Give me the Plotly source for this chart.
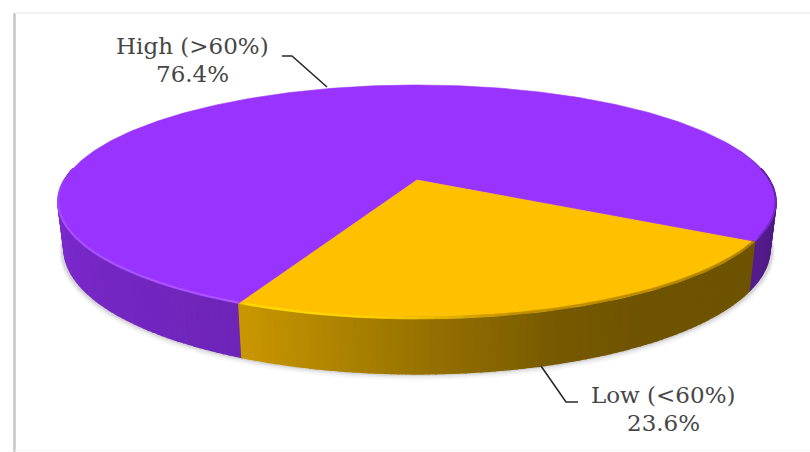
import numpy as np
import plotly.graph_objects as go

categories = ["High (>60%)", "Low (<60%)"]
shares = [76.4, 23.6]

W, H = 810, 452
CX, CY = 417.0, 180.0
R, S, K = 352.6, 112.9, 0.188
BOTTOM_X, BOTTOM_DY, BOTTOM_Y = 0.983, 45.5, 1.067
LOW_START = 29.8  # degrees, clockwise on screen from the right-hand side


def top_xy(deg):
    t = np.radians(deg)
    u, v = np.cos(t), np.sin(t)
    w = 1 - K * v
    return CX + R * u / w, CY + S * v / w


def bottom_xy(deg):
    x, y = top_xy(deg)
    return CX + (x - CX) * BOTTOM_X, CY + BOTTOM_DY + (y - CY) * BOTTOM_Y


def rgb(c, b=1.0):
    r, g, bl = [int(round(min(255, ch * b))) for ch in c]
    return f"rgb({r},{g},{bl})"


def interp(px, xs, ys):
    return float(np.interp(px, xs, ys))


PURPLE = (153, 51, 255)
AMBER = (255, 192, 0)

low_span = shares[1] / sum(shares) * 360
low_a, low_b = LOW_START, LOW_START + low_span

fig = go.Figure()


def poly(xs, ys, color, width=0.6):
    fig.add_trace(go.Scatter(x=xs, y=ys, mode="lines", fill="toself", fillcolor=color,
                             line=dict(color=color, width=width),
                             hoverinfo="skip", showlegend=False))


def stroke(xs, ys, color, width):
    fig.add_trace(go.Scatter(x=xs, y=ys, mode="lines", line=dict(color=color, width=width),
                             hoverinfo="skip", showlegend=False))


# soft shadow under the disc
ang = np.linspace(-4, 184, 160)
for off, width, alpha in [(3.0, 7, 0.05), (2.0, 4.5, 0.08), (1.0, 2.5, 0.14)]:
    bx, by = bottom_xy(ang)
    stroke(bx + (bx - CX) / 359 * 2, by + off, f"rgba(90,90,90,{alpha})", width)


def wall(a_from, a_to, shade, base):
    """Paint one slice's side wall as one band per degree, sharing boundaries."""
    edges = np.linspace(a_from, a_to, max(2, int(abs(a_to - a_from)) + 1))
    for a0, a1 in zip(edges[:-1], edges[1:]):
        mid = (a0 + a1) / 2
        tx, ty = top_xy(np.array([a0, a1]))
        bx, by = bottom_xy(np.array([a0, a1]))
        poly([tx[0], tx[1], bx[1], bx[0], tx[0]], [ty[0], ty[1], by[1], by[0], ty[0]],
             rgb(base, shade(mid)), width=1.6)


purple_shade = lambda m: interp(m, [-8, 0, low_a, low_b, 150, 188], [0.42, 0.46, 0.56, 0.72, 0.78, 0.86])
amber_shade = lambda m: interp(m, [low_a, 55, 70, 90, low_b], [0.43, 0.43, 0.46, 0.60, 0.79])

wall(-6, low_a, purple_shade, PURPLE)
wall(186, low_b, purple_shade, PURPLE)
wall(low_a, low_b, amber_shade, AMBER)

# top faces
hi = np.linspace(low_b, low_a + 360, 400)
hx, hy = top_xy(hi)
poly(np.r_[CX, hx, CX], np.r_[CY, hy, CY], rgb(PURPLE))
lo = np.linspace(low_a, low_b, 140)
lx, ly = top_xy(lo)
poly(np.r_[CX, lx, CX], np.r_[CY, ly, CY], rgb(AMBER))

# rim shading on the top face
rim = np.arange(-22, low_a + 0.1, 2.0)
for a0, a1 in zip(rim[:-1], rim[1:]):
    x, y = top_xy(np.array([a0, a1]))
    stroke(x - (x - CX) * 0.002, y - 0.5,
           f"rgba(60,20,110,{interp(a0, [-22, -4, low_a], [0.0, 0.5, 0.3])})", 1.4)
rim = np.arange(low_a, low_b + 0.1, 2.0)
for a0, a1 in zip(rim[:-1], rim[1:]):
    x, y = top_xy(np.array([a0, a1]))
    al = interp(a0, [low_a, 80, 95, low_b], [0.55, 0.40, 0.0, 0.0])
    if al > 0:
        stroke(x, y - 1.2, f"rgba(110,80,0,{al})", 2.5)
    hl = interp(a0, [75, 95, low_b], [0.0, 0.55, 0.9])
    if hl > 0:
        stroke(x, y - 1.0, f"rgba(255,225,0,{hl})", 2.2)
rim = np.arange(low_b, 182, 2.0)
for a0, a1 in zip(rim[:-1], rim[1:]):
    x, y = top_xy(np.array([a0, a1]))
    stroke(x, y - 1.0, f"rgba(175,95,255,{interp(a0, [low_b, 160, 180], [0.8, 0.7, 0.2])})", 2.2)

# frame
stroke([14.5, 14.5], [13, 452], "rgb(200,200,200)", 2.6)
stroke([15, 810], [13, 13], "rgb(238,238,238)", 1.4)
stroke([15, 810], [450.5, 450.5], "rgb(248,248,248)", 1.2)

# leader lines
LEADER = "rgb(40,40,40)"
stroke([282, 292, 327], [56, 56, 87], LEADER, 1.6)
stroke([541, 566, 578], [366, 402, 402], LEADER, 1.6)

TXT = "rgb(70,70,70)"
FONT = dict(family="DejaVu Serif", size=23, color=TXT)
anns = [
    dict(x=192, y=46, text=categories[0]),
    dict(x=192, y=74, text=f"{shares[0]}%"),
    dict(x=663, y=395, text=categories[1]),
    dict(x=663, y=423, text=f"{shares[1]}%"),
]
for a in anns:
    a.update(xref="x", yref="y", showarrow=False, font=FONT, xanchor="center", yanchor="middle")

fig.update_layout(
    width=W, height=H, autosize=False,
    margin=dict(l=0, r=0, t=0, b=0, pad=0),
    paper_bgcolor="white", plot_bgcolor="white",
    showlegend=False, annotations=anns,
    xaxis=dict(range=[0, W], visible=False, fixedrange=True),
    yaxis=dict(range=[H, 0], visible=False, fixedrange=True),
)
fig.write_html("out.html", config=dict(displayModeBar=False),
               post_script="document.body.style.margin='0';document.body.style.overflow='hidden';")
